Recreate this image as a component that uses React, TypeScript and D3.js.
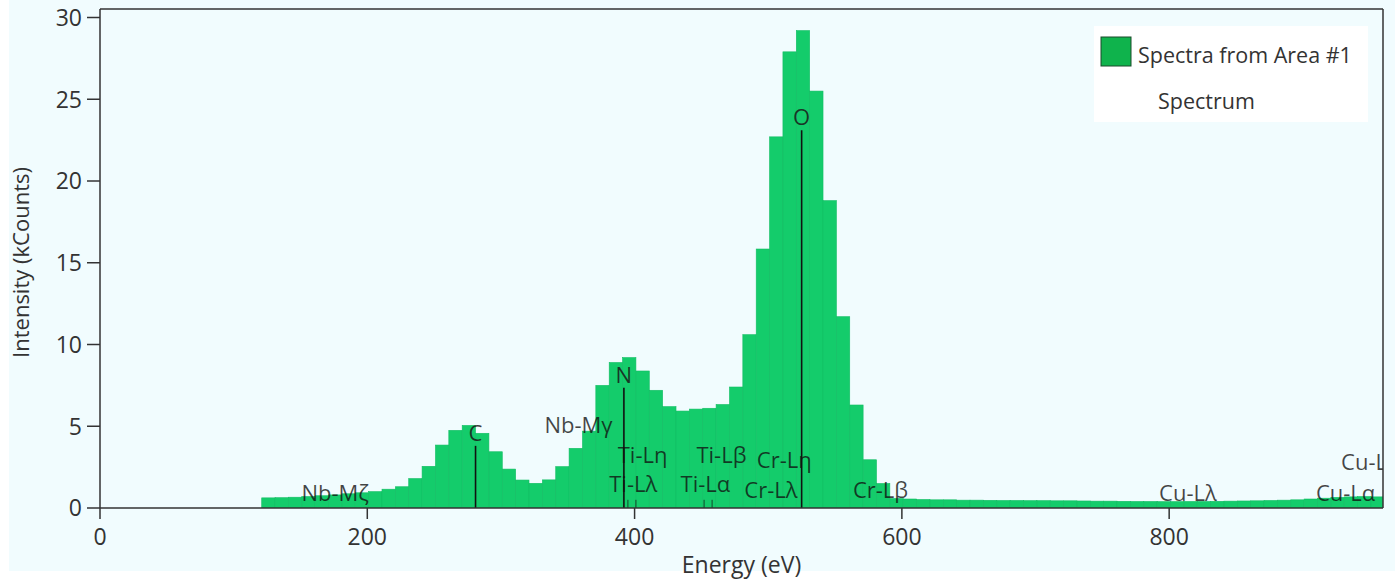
import React from "react";
import * as d3 from "d3";

const binStart: number[] = [
  121, 131, 141, 151, 161, 171, 181, 191, 201, 211, 221, 231, 241, 251, 261, 271,
  281, 291, 301, 311, 321, 331, 341, 351, 361, 371, 381, 391, 401, 411, 421, 431,
  441, 451, 461, 471, 481, 491, 501, 511, 521, 531, 541, 551, 561, 571, 581, 591,
  601, 611, 621, 631, 641, 651, 661, 671, 681, 691, 701, 711, 721, 731, 741, 751,
  761, 771, 781, 791, 801, 811, 821, 831, 841, 851, 861, 871, 881, 891, 901, 911,
  921, 931, 941, 951,
];
const counts: number[] = [
  0.62, 0.63, 0.66, 0.7, 0.75, 0.8, 0.87, 0.93, 1.0, 1.15, 1.3, 1.8, 2.55, 3.85, 4.75, 5.05,
  4.57, 3.44, 2.38, 1.71, 1.51, 1.72, 2.53, 3.65, 4.7, 7.5, 8.9, 9.2, 8.38, 7.2, 6.2, 5.93,
  6.05, 6.1, 6.33, 7.4, 10.6, 15.84, 22.7, 27.9, 29.2, 25.5, 18.8, 11.7, 6.3, 2.95, 1.5, 0.58,
  0.55, 0.52, 0.5, 0.5, 0.48, 0.48, 0.47, 0.46, 0.46, 0.45, 0.45, 0.44, 0.44, 0.43, 0.42, 0.42,
  0.41, 0.4, 0.4, 0.39, 0.39, 0.4, 0.4, 0.41, 0.42, 0.43, 0.44, 0.46, 0.48, 0.5, 0.55, 0.6,
  0.65, 0.68, 0.7, 0.68,
];
const binWidth = 10;

const xTicks: number[] = [0, 200, 400, 600, 800];
const yTicks: number[] = [0, 5, 10, 15, 20, 25, 30];

// element lines with marker heights (kCounts)
const elementNames: string[] = ["C", "N", "O"];
const elementEnergies: number[] = [281, 392, 525];
const elementHeights: number[] = [3.8, 7.35, 23.1];

// sub-line labels: name, label centre energy, label baseline (kCounts)
const lineNames: string[] = ["Nb-Mζ", "Nb-Mγ", "Ti-Lη", "Ti-Lλ", "Ti-Lα", "Ti-Lβ", "Cr-Lη", "Cr-Lλ", "Cr-Lβ", "Cu-Lλ", "Cu-Lα", "Cu-Lβ"];
const lineLabelEnergies: number[] = [176, 358, 406, 399, 453, 465, 512, 502, 584, 814, 932, 951];
const lineLabelLevels: number[] = [0.45, 4.6, 2.75, 0.95, 0.95, 2.75, 2.45, 0.6, 0.6, 0.45, 0.45, 2.3];
const minorMarkerEnergies: number[] = [395, 401, 452, 458];

const W = 1395;
const H = 581;
const left = 100, right = 1383, top = 9, bottom = 508;
const FONT = "'Open Sans', 'Noto Sans', sans-serif";

export default function App() {
  const x = d3.scaleLinear().domain([0, 960]).range([left, right]);
  const y = d3.scaleLinear().domain([0, 30.52]).range([bottom, top]);
  const textColor = "#333333";
  const bar = "#14cc6b";

  return (
    <svg width={W} height={H} style={{ position: "absolute", left: 0, top: 0 }} fontFamily={FONT}>
      <rect x={0} y={0} width={W} height={H} fill="#ffffff" />
      <rect x={9} y={0} width={W - 9} height={571} fill="#f1fcfe" />
      <defs>
        <clipPath id="plotClip">
          <rect x={left} y={top} width={right - left} height={bottom - top} />
        </clipPath>
      </defs>
      <g clipPath="url(#plotClip)">
        {binStart.map((b, i) => (
          <rect
            key={i}
            x={x(b)}
            y={y(counts[i])}
            width={x(b + binWidth) - x(b)}
            height={y(0) - y(counts[i])}
            fill={bar}
            stroke="#12bd63"
            strokeWidth={0.6}
          />
        ))}
        {elementNames.map((n, i) => (
          <g key={n}>
            <line x1={x(elementEnergies[i])} x2={x(elementEnergies[i])} y1={y(0)} y2={y(elementHeights[i])} stroke="#111" strokeWidth={1.6} />
            <text x={x(elementEnergies[i])} y={y(elementHeights[i]) - 5} textAnchor="middle" fontSize={22} fill="#1a1a1a" fillOpacity={0.85}>{n}</text>
          </g>
        ))}
        {minorMarkerEnergies.map((e, i) => (
          <line key={i} x1={x(e)} x2={x(e)} y1={y(0)} y2={y(0.5)} stroke="#111" strokeWidth={1} opacity={0.7} />
        ))}
        {lineNames.map((n, i) => (
          <text key={n} x={x(lineLabelEnergies[i])} y={y(lineLabelLevels[i])} textAnchor="middle" fontSize={22} fill="#111" fillOpacity={0.78}>{n}</text>
        ))}
      </g>
      {/* frame */}
      <line x1={left} x2={right} y1={top} y2={top} stroke="#333" strokeWidth={1.5} />
      <line x1={right} x2={right} y1={top} y2={bottom} stroke="#333" strokeWidth={1.5} />
      <line x1={left} x2={left} y1={top} y2={bottom} stroke="#333" strokeWidth={1.5} />
      <line x1={left} x2={right} y1={bottom} y2={bottom} stroke="#333" strokeWidth={1.5} />
      {yTicks.map((t) => (
        <g key={t}>
          <line x1={left - 13} x2={left} y1={y(t)} y2={y(t)} stroke="#333" strokeWidth={1.5} />
          <text x={left - 18} y={y(t)} dy="0.36em" textAnchor="end" fontSize={23} fill={textColor}>{t}</text>
        </g>
      ))}
      {xTicks.map((t) => (
        <g key={t}>
          <line x1={x(t)} x2={x(t)} y1={bottom} y2={bottom + 11} stroke="#333" strokeWidth={1.5} />
          <text x={x(t)} y={bottom + 37} textAnchor="middle" fontSize={23} fill={textColor}>{t}</text>
        </g>
      ))}
      <text x={(left + right) / 2} y={573} textAnchor="middle" fontSize={23} fill={textColor}>Energy (eV)</text>
      <text transform={`translate(29, ${(top + bottom) / 2 + 4}) rotate(-90)`} textAnchor="middle" fontSize={22} fill={textColor}>Intensity (kCounts)</text>
      {/* legend */}
      <rect x={1094} y={26} width={274} height={96} fill="#ffffff" />
      <rect x={1101} y={37} width={30} height={29} fill="#0fb34c" stroke="#1a4a2a" strokeWidth={1} />
      <text x={1138} y={63} fontSize={21.5} fill={textColor}>Spectra from Area #1</text>
      <text x={1158} y={109} fontSize={21.5} fill={textColor}>Spectrum</text>
    </svg>
  );
}
